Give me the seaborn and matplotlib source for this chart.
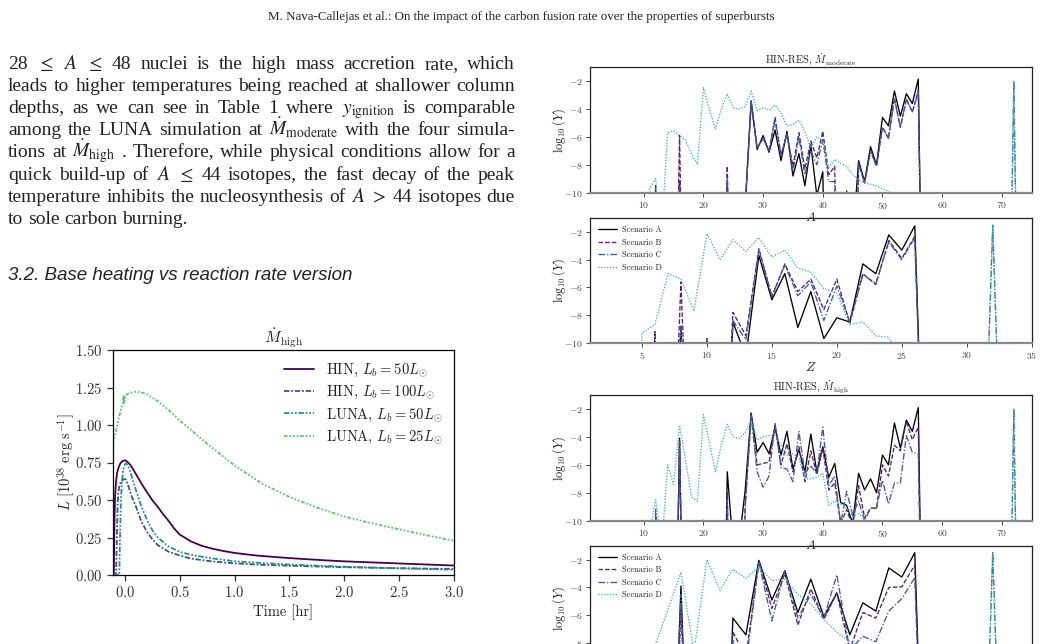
import numpy as np
import pandas as pd
import matplotlib
matplotlib.use("Agg")
import matplotlib.pyplot as plt
import seaborn as sns

# ---------------- data ----------------
LO = -30.0  # abundances far below the plotted range

# light curves, Mdot_high
t_hin50 = [-0.105, -0.100, -0.097, -0.093, -0.088, -0.080, -0.070, -0.055, -0.040, -0.020, 0.0, 0.02, 0.05, 0.08,
           0.12, 0.16, 0.20, 0.25, 0.30, 0.35, 0.40, 0.45, 0.50, 0.60, 0.70, 0.80, 0.90, 1.0, 1.2, 1.4, 1.6, 1.8,
           2.0, 2.25, 2.5, 2.75, 3.0]
L_hin50 = [0.0, 0.0, 0.20, 0.40, 0.53, 0.62, 0.68, 0.72, 0.745, 0.76, 0.765, 0.757, 0.735, 0.70,
           0.65, 0.60, 0.555, 0.50, 0.455, 0.405, 0.36, 0.31, 0.27, 0.225, 0.195, 0.175, 0.16, 0.147, 0.13, 0.118,
           0.108, 0.099, 0.091, 0.084, 0.077, 0.07, 0.063]
t_hin100 = [-0.105, -0.080, -0.072, -0.066, -0.060, -0.050, -0.035, -0.02, 0.0, 0.01, 0.03, 0.06, 0.1, 0.15, 0.2,
            0.25, 0.3, 0.4, 0.5, 0.6, 0.8, 1.0, 1.25, 1.5, 2.0, 2.5, 3.0]
L_hin100 = [0.0, 0.0, 0.25, 0.45, 0.54, 0.59, 0.62, 0.635, 0.64, 0.635, 0.60, 0.53, 0.46, 0.36, 0.29,
            0.24, 0.20, 0.155, 0.13, 0.11, 0.09, 0.078, 0.068, 0.062, 0.052, 0.045, 0.04]
t_luna50 = [-0.105, -0.050, -0.042, -0.035, -0.025, -0.015, 0.0, 0.01, 0.02, 0.04, 0.07, 0.1, 0.15, 0.2, 0.25,
            0.3, 0.4, 0.5, 0.6, 0.8, 1.0, 1.25, 1.5, 2.0, 2.5, 3.0]
L_luna50 = [0.0, 0.0, 0.3, 0.5, 0.63, 0.70, 0.735, 0.745, 0.74, 0.71, 0.64, 0.57, 0.46, 0.37, 0.30,
            0.25, 0.19, 0.155, 0.135, 0.11, 0.092, 0.08, 0.07, 0.055, 0.045, 0.035]
t_luna25 = [-0.12, -0.10, -0.08, -0.06, -0.04, -0.02, -0.015, -0.012, -0.009, -0.006, -0.003, 0.0, 0.02, 0.05,
            0.1, 0.15, 0.2, 0.3, 0.4, 0.5, 0.6, 0.75, 1.0, 1.25, 1.5, 1.75, 2.0, 2.25, 2.5, 2.75, 3.0]
L_luna25 = [0.85, 0.90, 0.96, 1.03, 1.09, 1.14, 1.15, 1.19, 1.14, 1.2, 1.16, 1.19, 1.205, 1.215,
            1.222, 1.218, 1.205, 1.16, 1.10, 1.03, 0.97, 0.875, 0.73, 0.61, 0.52, 0.45, 0.39, 0.345, 0.305, 0.265, 0.228]

# abundances vs mass number A (A = 10..57, then 71, 72, 73)
A_vals = list(range(10, 58)) + [71, 72, 73]
modA_A = [LO, LO, LO, LO, LO, LO, -9.2, LO, LO, LO,
          LO, LO, LO, LO, -9.3, LO, LO, -11.0, -3.4, -6.9,
          -5.9, -7.1, -5.5, -7.7, -5.6, -8.8, -7.2, -9.5, -6.6, -10.2,
          -8.5, LO, LO, LO, LO, -13.5, -7.7, -9.2, -6.7, -8.0,
          -4.6, -5.2, -2.7, -4.5, -2.9, -3.6, -1.85, LO,
          LO, LO, LO]
modA_B = [LO, LO, -9.5, LO, LO, LO, -5.9, LO, LO, LO,
          LO, LO, LO, LO, -8.1, LO, LO, -11.0, -3.5, -6.8,
          -6.1, -7.0, -4.6, -7.3, -5.8, -8.1, -5.7, -8.3, -6.3, -7.5,
          -5.6, -8.7, -8.1, LO, -9.8, LO, -7.9, -9.3, -7.0, -8.1,
          -5.3, -6.1, -3.2, -5.3, -3.3, -4.2, -2.7, LO,
          LO, LO, LO]
modA_C = [LO, LO, LO, LO, LO, LO, -9.3, LO, LO, LO,
          LO, LO, LO, LO, -9.0, LO, LO, -11.0, -3.5, -6.8,
          -6.1, -7.0, -4.8, -7.3, -5.8, -8.5, -6.0, -8.7, -7.0, -8.0,
          -6.2, -9.2, -9.2, LO, LO, LO, -7.9, -9.3, -7.0, -8.1,
          -5.3, -6.1, -3.3, -5.3, -3.3, -4.2, -2.8, LO,
          LO, -2.0, LO]
modA_D = [LO, -9.7, -9.0, -13.0, -5.7, -5.55, -5.9, -6.2, -7.2, -7.95,
          -2.45, -4.0, -5.45, -4.0, -2.9, -3.9, -4.0, -3.8, -2.7, -4.1,
          -3.9, -4.1, -3.7, -4.3, -5.2, -5.1, -4.8, -5.6, -6.8, -6.0,
          -6.3, -8.2, -7.6, -7.9, -8.1, -8.7, -9.1, -9.3, -9.4, -9.5,
          -9.7, -9.9, -10.6, LO, LO, LO, LO, LO,
          LO, -2.0, LO]
highA_A = [LO, LO, LO, LO, LO, LO, -4.1, LO, LO, LO,
           LO, LO, LO, LO, -6.5, -12.0, -11.5, -7.8, -2.3, -5.1,
           -4.4, -5.2, -3.3, -5.3, -3.6, -6.3, -4.9, -6.5, -3.8, -6.5,
           -4.7, -6.9, -5.9, -8.7, -8.9, -10.2, -6.6, -7.8, -7.0, -8.0,
           -5.3, -6.0, -3.0, -4.8, -2.8, -3.6, -1.9, LO,
           LO, LO, LO]
highA_B = [LO, LO, -9.6, LO, LO, LO, -4.3, LO, LO, LO,
           LO, LO, LO, LO, -8.0, LO, LO, -9.0, -2.3, -6.0,
           -5.9, -5.8, -3.2, -6.0, -4.5, -6.5, -4.7, -7.2, -5.0, -6.7,
           -4.8, -7.8, -7.3, -10.2, -9.2, -10.4, -7.5, -9.8, -9.1, -9.1,
           -6.0, -6.8, -4.6, -5.0, -2.9, -4.2, -3.3, LO,
           LO, LO, LO]
highA_C = [LO, LO, -9.2, LO, LO, LO, -4.3, LO, LO, LO,
           -9.9, LO, LO, LO, -8.5, LO, LO, -9.0, -2.5, -6.5,
           -7.6, -6.8, -3.0, -6.2, -6.3, -7.2, -3.6, -6.6, -6.1, -6.6,
           -3.3, -7.5, -6.8, -10.2, -7.9, -9.6, -8.6, -10.0, -9.1, -9.1,
           -7.1, -8.8, -7.3, -7.3, -3.9, -5.1, -5.2, LO,
           LO, -2.0, LO]
highA_D = [LO, -10.8, -8.5, -12.0, -6.0, -7.4, -3.15, -5.6, -8.3, -8.6,
           -2.4, -4.4, -6.5, -4.6, -3.1, -4.0, -4.1, -3.7, -2.8, -4.2,
           -4.0, -3.9, -3.9, -4.6, -5.3, -5.2, -5.5, -7.0, -7.0, -6.9,
           -6.6, -8.9, -8.6, -8.8, -9.1, -9.7, -9.5, -9.8, -10.4, LO,
           LO, LO, LO, LO, LO, LO, LO, LO,
           LO, -2.0, LO]

# abundances vs charge number Z (Z = 4..27, then 31, 32, 33)
Z_vals = list(range(4, 28)) + [31, 32, 33]
modZ_A = [LO, LO, LO, LO, -8.8, LO, LO, LO, -8.5, -11.0, -3.7, -6.9, -5.0, -8.9, -6.3, -9.7, -8.2, -8.5,
          -4.3, -5.0, -2.2, -3.3, -1.55, LO, LO, LO, LO]
modZ_B = [LO, LO, -9.2, LO, -5.6, LO, -9.7, LO, -7.8, -9.5, -3.2, -6.7, -4.3, -6.3, -5.4, -7.6, -5.4, -8.6,
          -5.0, -5.8, -2.6, -3.9, -2.3, LO, LO, LO, LO]
modZ_C = [LO, LO, LO, LO, -8.8, LO, LO, LO, -8.4, -9.8, -3.3, -6.6, -4.4, -6.6, -5.6, -8.4, -5.9, -8.5,
          -5.1, -5.7, -2.7, -4.0, -2.4, LO, LO, -1.5, LO]
modZ_D = [LO, -9.3, -8.7, -5.0, -5.4, -7.7, -2.1, -4.0, -2.55, -3.4, -2.4, -3.8, -3.3, -4.6, -4.9, -6.1, -6.4, -8.7,
          -8.5, -9.5, -9.6, -11.5, LO, LO, LO, -1.5, LO]
highZ_A = [LO, LO, LO, LO, -3.9, LO, LO, LO, -6.2, -7.4, -2.05, -4.9, -2.8, -5.8, -3.4, -6.1, -4.4, -7.4,
           -5.1, -5.7, -2.6, -3.25, -1.5, LO, LO, LO, LO]
highZ_B = [LO, LO, LO, LO, -5.5, LO, LO, LO, -7.2, -9.0, -2.1, -5.5, -3.0, -6.7, -4.1, -6.3, -4.4, -8.5,
           -5.8, -6.2, -4.0, -3.95, -2.4, LO, LO, LO, LO]
highZ_C = [LO, LO, LO, LO, -4.5, LO, LO, LO, -7.8, -9.5, -2.2, -6.4, -2.8, -6.2, -4.5, -6.2, -3.1, -8.5,
           -7.5, -7.9, -5.7, -4.8, -3.3, LO, LO, -1.5, LO]
highZ_D = [LO, -10.5, -8.2, -5.6, -2.9, -8.6, -2.0, -4.2, -2.7, -3.35, -2.5, -3.5, -3.4, -4.5, -5.2, -6.3, -7.2, -7.9,
           -8.4, -9.5, -9.8, -11.0, LO, LO, LO, -1.5, LO]

scen_labels = ["Scenario A", "Scenario B", "Scenario C", "Scenario D"]
scen_colors = ["black", "#55207a", "#3e5a9a", "#3db5b0"]
scen_styles = ["-", (0, (3.5, 1.5)), (0, (5, 1.5, 1, 1.5)), (0, (1, 1.2))]

# ---------------- style ----------------
sns.set_style("ticks")
plt.rcParams.update({
    "font.family": ["cmr10"],
    "mathtext.fontset": "cm",
    "axes.formatter.use_mathtext": True,
    "axes.edgecolor": "black",
    "axes.linewidth": 0.9,
    "xtick.color": "#333333",
    "ytick.color": "#333333",
    "text.color": "#222222",
    "axes.labelcolor": "#222222",
})

W, H = 1042, 644
fig = plt.figure(figsize=(W / 100, H / 100), dpi=100)


def fx(px):
    return px / W


def fy(py):
    return 1 - py / H


def ax_at(x0, y0, x1, y1):
    a = fig.add_axes([fx(x0), fy(y1), fx(x1) - fx(x0), (y1 - y0) / H])
    a.patch.set_visible(False)
    return a


# ---------------- page text ----------------
renderer = fig.canvas.get_renderer()
SERIF = "Liberation Serif"


def width_of(artist):
    return artist.get_window_extent(renderer=renderer).width


def fit_size(txt, target, family, style="normal", math="stix"):
    probe = fig.text(0, 0, txt, fontsize=10, family=family, style=style, math_fontfamily=math)
    w = width_of(probe)
    probe.remove()
    return 10 * target / w


header = "M. Nava-Callejas et al.: On the impact of the carbon fusion rate over the properties of superbursts"
hsize = fit_size(header, 507, SERIF)
fig.text(fx(521), fy(20), header, fontsize=hsize, family=SERIF, ha="center", va="baseline")

body = [
    r"28 $\leq$ $A$ $\leq$ 48 nuclei is the high mass accretion rate, which",
    "leads to higher temperatures being reached at shallower column",
    r"depths, as we can see in Table 1 where $y_{\mathrm{ignition}}$ is comparable",
    r"among the LUNA simulation at $\dot{M}_{\mathrm{moderate}}$ with the four simula-",
    r"tions at $\dot{M}_{\mathrm{high}}$ . Therefore, while physical conditions allow for a",
    r"quick build-up of $A$ $\leq$ 44 isotopes, the fast decay of the peak",
    r"temperature inhibits the nucleosynthesis of $A$ $>$ 44 isotopes due",
    "to sole carbon burning.",
]
bsize = fit_size(body[-1], 179, SERIF)


def put_line(line, ybase, x0, x1, size, justify):
    words = line.split()
    arts = [fig.text(0, fy(ybase), w, fontsize=size, family=SERIF, math_fontfamily="stix",
                     va="baseline") for w in words]
    widths = [width_of(a) for a in arts]
    if justify:
        gap = (x1 - x0 - sum(widths)) / (len(words) - 1)
    else:
        gap = 0.25 * size * 100 / 72
    x = x0
    for a, w in zip(arts, widths):
        a.set_x(fx(x))
        x += w + gap


for i, line in enumerate(body):
    put_line(line, 69 + 22.1 * i, 8, 515, bsize, i < len(body) - 1)

heading = "3.2. Base heating vs reaction rate version"
fig.text(fx(8), fy(280), heading, fontsize=fit_size(heading, 347, "Liberation Sans", "italic"),
         family="Liberation Sans", style="italic", va="baseline")

# ---------------- light curve panel ----------------
ax = ax_at(112.7, 350, 454, 575)
curves = [
    (t_hin50, L_hin50, r"HIN, $L_b = 50L_{\odot}$", "#440154", "-"),
    (t_hin100, L_hin100, r"HIN, $L_b = 100L_{\odot}$", "#3b528b", (0, (3, 1, 1, 1))),
    (t_luna50, L_luna50, r"LUNA, $L_b = 50L_{\odot}$", "#21918c", (0, (3, 1, 1, 1, 1, 1))),
    (t_luna25, L_luna25, r"LUNA, $L_b = 25L_{\odot}$", "#5ec962", (0, (2, 1, 1, 1, 1, 1, 1, 1))),
]
for t, L, lab, col, ls in curves:
    sns.lineplot(x=t, y=L, ax=ax, color=col, linestyle=ls, lw=1.3, label=lab, sort=False, estimator=None)
ax.set_xlim(-0.11, 3.0)
ax.set_ylim(0, 1.5)
ax.set_xticks([0, 0.5, 1.0, 1.5, 2.0, 2.5, 3.0])
ax.set_yticks([0, 0.25, 0.5, 0.75, 1.0, 1.25, 1.5])
ax.xaxis.set_major_formatter(matplotlib.ticker.FormatStrFormatter(r"$%.1f$"))
ax.yaxis.set_major_formatter(matplotlib.ticker.FormatStrFormatter(r"$%.2f$"))
ax.tick_params(labelsize=10.5, length=4, width=0.9)
ax.set_xlabel("Time [hr]", fontsize=10.5, labelpad=3)
ax.set_ylabel(r"$L\ [10^{38}\ \mathrm{erg\ s^{-1}}]$", fontsize=10.5)
ax.yaxis.set_label_coords((77 - 112.7) / 341.3, 0.5)
ax.set_title(r"$\dot{M}_{\mathrm{high}}$", fontsize=11.5, pad=3)
ax.legend(loc="upper right", frameon=False, fontsize=10.5, handlelength=2.1, labelspacing=0.35,
          borderaxespad=0.4)
for s in ax.spines.values():
    s.set_visible(True)


# ---------------- abundance panels ----------------
def abund_panel(box, xs, series, xlim, xticks, title=None, xlabel=None, legend=False, yticks=(-2, -4, -6, -8, -10)):
    a = ax_at(*box)
    for vals, lab, col, ls in zip(series, scen_labels, scen_colors, scen_styles):
        sns.lineplot(x=xs, y=vals, ax=a, color=col, linestyle=ls, lw=0.95, label=lab,
                     sort=False, estimator=None)
    a.set_xlim(*xlim)
    a.set_ylim(-10, -1)
    a.set_xticks(xticks)
    a.set_yticks(list(yticks))
    a.tick_params(labelsize=7, length=3, width=0.7, pad=2, colors="#444444")
    a.set_ylabel(r"$\log_{10}(Y)$", fontsize=9)
    a.yaxis.set_label_coords((568 - 590) / 441.7, 0.5)
    if xlabel:
        a.set_xlabel(xlabel, fontsize=9.5, labelpad=0)
    else:
        # this panel runs off the bottom of the page: its x labels are not visible
        a.set_xlabel("")
        a.tick_params(axis="x", labelbottom=False)
    if title:
        a.set_title(title, fontsize=7.5, pad=2.5)
    if legend:
        a.legend(loc="upper left", frameon=False, fontsize=6, handlelength=2.3, handletextpad=0.7,
                 labelspacing=0.5)
    else:
        a.get_legend().remove()
    a.spines["bottom"].set_color("#888888")
    a.spines["bottom"].set_linewidth(1.6)
    for side in ["top", "left", "right"]:
        a.spines[side].set_color("#222222")
        a.spines[side].set_linewidth(0.9)
    return a


abund_panel((590, 67.3, 1031.7, 192.7), A_vals, [modA_A, modA_B, modA_C, modA_D], (1, 75),
            [10, 20, 30, 40, 50, 60, 70], title=r"HIN-RES, $\dot{M}_{\mathrm{moderate}}$", xlabel=r"$A$")
abund_panel((590, 218.3, 1031.7, 342.7), Z_vals, [modZ_A, modZ_B, modZ_C, modZ_D], (1, 35),
            [5, 10, 15, 20, 25, 30, 35], xlabel=r"$Z$", legend=True)
abund_panel((590, 395, 1031.7, 520.7), A_vals, [highA_A, highA_B, highA_C, highA_D], (1, 75),
            [10, 20, 30, 40, 50, 60, 70], title=r"HIN-RES, $\dot{M}_{\mathrm{high}}$", xlabel=r"$A$")
abund_panel((590, 545.7, 1031.7, 671), Z_vals, [highZ_A, highZ_B, highZ_C, highZ_D], (1, 35),
            [5, 10, 15, 20, 25, 30, 35], legend=True, yticks=(-2, -4, -6, -8))

fig.savefig("out.png", dpi=100)
